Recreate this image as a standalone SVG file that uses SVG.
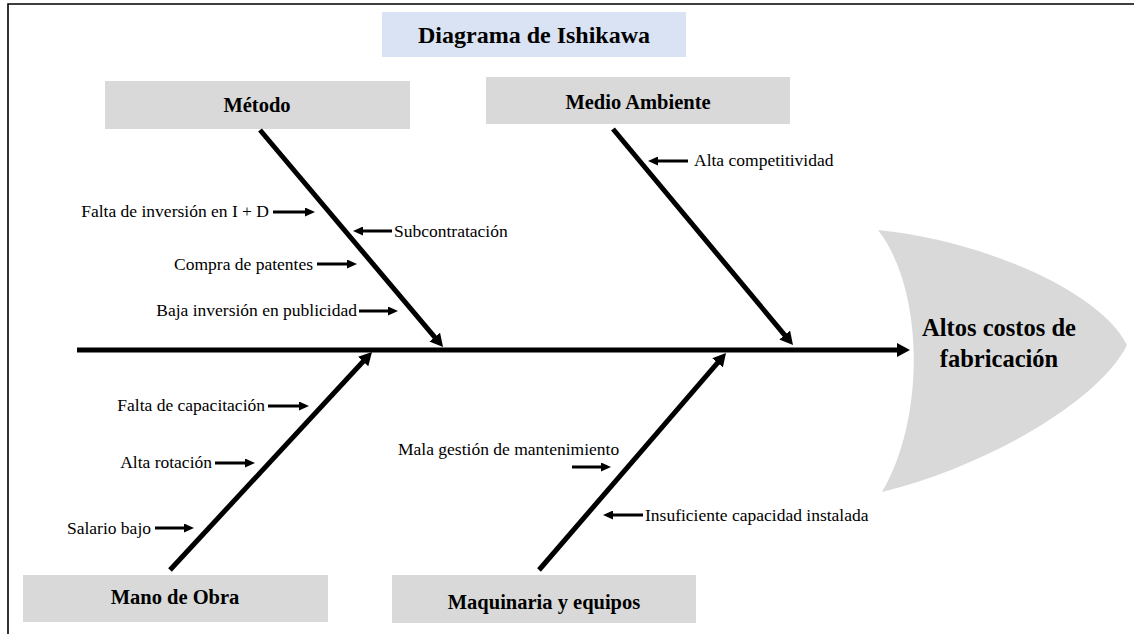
<svg xmlns="http://www.w3.org/2000/svg" width="1134" height="634" viewBox="0 0 1134 634">
<style>
.box{fill:#d9d9d9}
.title-box{fill:#dae3f3}
.bone{stroke:#000;stroke-width:5;fill:none}
.sub{stroke:#000;stroke-width:3;fill:none}
</style>
<defs>
<marker id="big" markerUnits="userSpaceOnUse" markerWidth="16" markerHeight="14" refX="3" refY="7" orient="auto">
<path d="M0,0 L13,7 L0,14 z" fill="#000"/>
</marker>
<marker id="small" markerUnits="userSpaceOnUse" markerWidth="11" markerHeight="9" refX="3" refY="4.5" orient="auto">
<path d="M0,0 L10,4.5 L0,9 z" fill="#000"/>
</marker>
</defs>
<rect width="1134" height="634" fill="#fff"/>
<path d="M8,634 L8,4 L1134,4" fill="none" stroke="#000" stroke-width="1.6"/>

<g font-family="'Liberation Serif', 'Times New Roman', 'DejaVu Serif', serif" font-weight="bold" fill="#000">
<g id="title">
<rect class="title-box" x="382" y="12" width="304" height="45"/>
<text x="534" y="43" font-size="24" text-anchor="middle">Diagrama de Ishikawa</text>
</g>

<g id="head">
<path d="M878,230 C980,240 1100,290 1127,345 C1100,400 990,465 882,492 C925,420 925,290 878,230 Z" fill="#d9d9d9"/>
<text x="999" y="336" font-size="24.5" text-anchor="middle">Altos costos de</text>
<text x="999" y="367" font-size="24.5" text-anchor="middle">fabricación</text>
</g>

<g id="metodo">
<rect class="box" x="105" y="81" width="305" height="48"/>
<text x="257" y="112" font-size="20.5" text-anchor="middle">Método</text>
</g>
<g id="medio-ambiente">
<rect class="box" x="486" y="77" width="304" height="47"/>
<text x="638" y="109" font-size="20.5" text-anchor="middle">Medio Ambiente</text>
</g>
<g id="mano-de-obra">
<rect class="box" x="23" y="575" width="305" height="47"/>
<text x="175" y="604" font-size="20.5" text-anchor="middle">Mano de Obra</text>
</g>
<g id="maquinaria">
<rect class="box" x="392" y="575" width="304" height="48"/>
<text x="544" y="609" font-size="20.5" text-anchor="middle">Maquinaria y equipos</text>
</g>
</g>

<g id="connectors">
<line class="bone" x1="77" y1="350" x2="900" y2="350" marker-end="url(#big)"/>
<line class="bone" x1="260" y1="130" x2="436.6" y2="339.4" marker-end="url(#big)"/>
<line class="bone" x1="613" y1="129" x2="786.6" y2="337.3" marker-end="url(#big)"/>
<line class="bone" x1="170" y1="570" x2="365.2" y2="359.3" marker-end="url(#big)"/>
<line class="bone" x1="539" y1="570" x2="719.5" y2="360.6" marker-end="url(#big)"/>

<line class="sub" x1="273" y1="212" x2="308" y2="212" marker-end="url(#small)"/>
<line class="sub" x1="392" y1="231" x2="360" y2="231" marker-end="url(#small)"/>
<line class="sub" x1="317" y1="264" x2="350" y2="264" marker-end="url(#small)"/>
<line class="sub" x1="359" y1="311" x2="391" y2="311" marker-end="url(#small)"/>
<line class="sub" x1="688" y1="161" x2="655" y2="161" marker-end="url(#small)"/>
<line class="sub" x1="268" y1="406" x2="302" y2="406" marker-end="url(#small)"/>
<line class="sub" x1="215" y1="463" x2="248" y2="463" marker-end="url(#small)"/>
<line class="sub" x1="155" y1="528" x2="187" y2="528" marker-end="url(#small)"/>
<line class="sub" x1="572" y1="467" x2="604" y2="467" marker-end="url(#small)"/>
<line class="sub" x1="643" y1="515" x2="610" y2="515" marker-end="url(#small)"/>
</g>

<g id="labels" font-family="'Liberation Serif', 'Times New Roman', 'DejaVu Serif', serif" font-size="17.5" fill="#000">
<text x="269" y="217" text-anchor="end">Falta de inversión en I + D</text>
<text x="394" y="237">Subcontratación</text>
<text x="313" y="270" text-anchor="end">Compra de patentes</text>
<text x="357" y="316" text-anchor="end">Baja inversión en publicidad</text>
<text x="694" y="166">Alta competitividad</text>
<text x="265" y="411" text-anchor="end">Falta de capacitación</text>
<text x="212" y="468" text-anchor="end">Alta rotación</text>
<text x="151" y="534" text-anchor="end">Salario bajo</text>
<text x="398" y="455">Mala gestión de mantenimiento</text>
<text x="645" y="521">Insuficiente capacidad instalada</text>
</g>
</svg>
